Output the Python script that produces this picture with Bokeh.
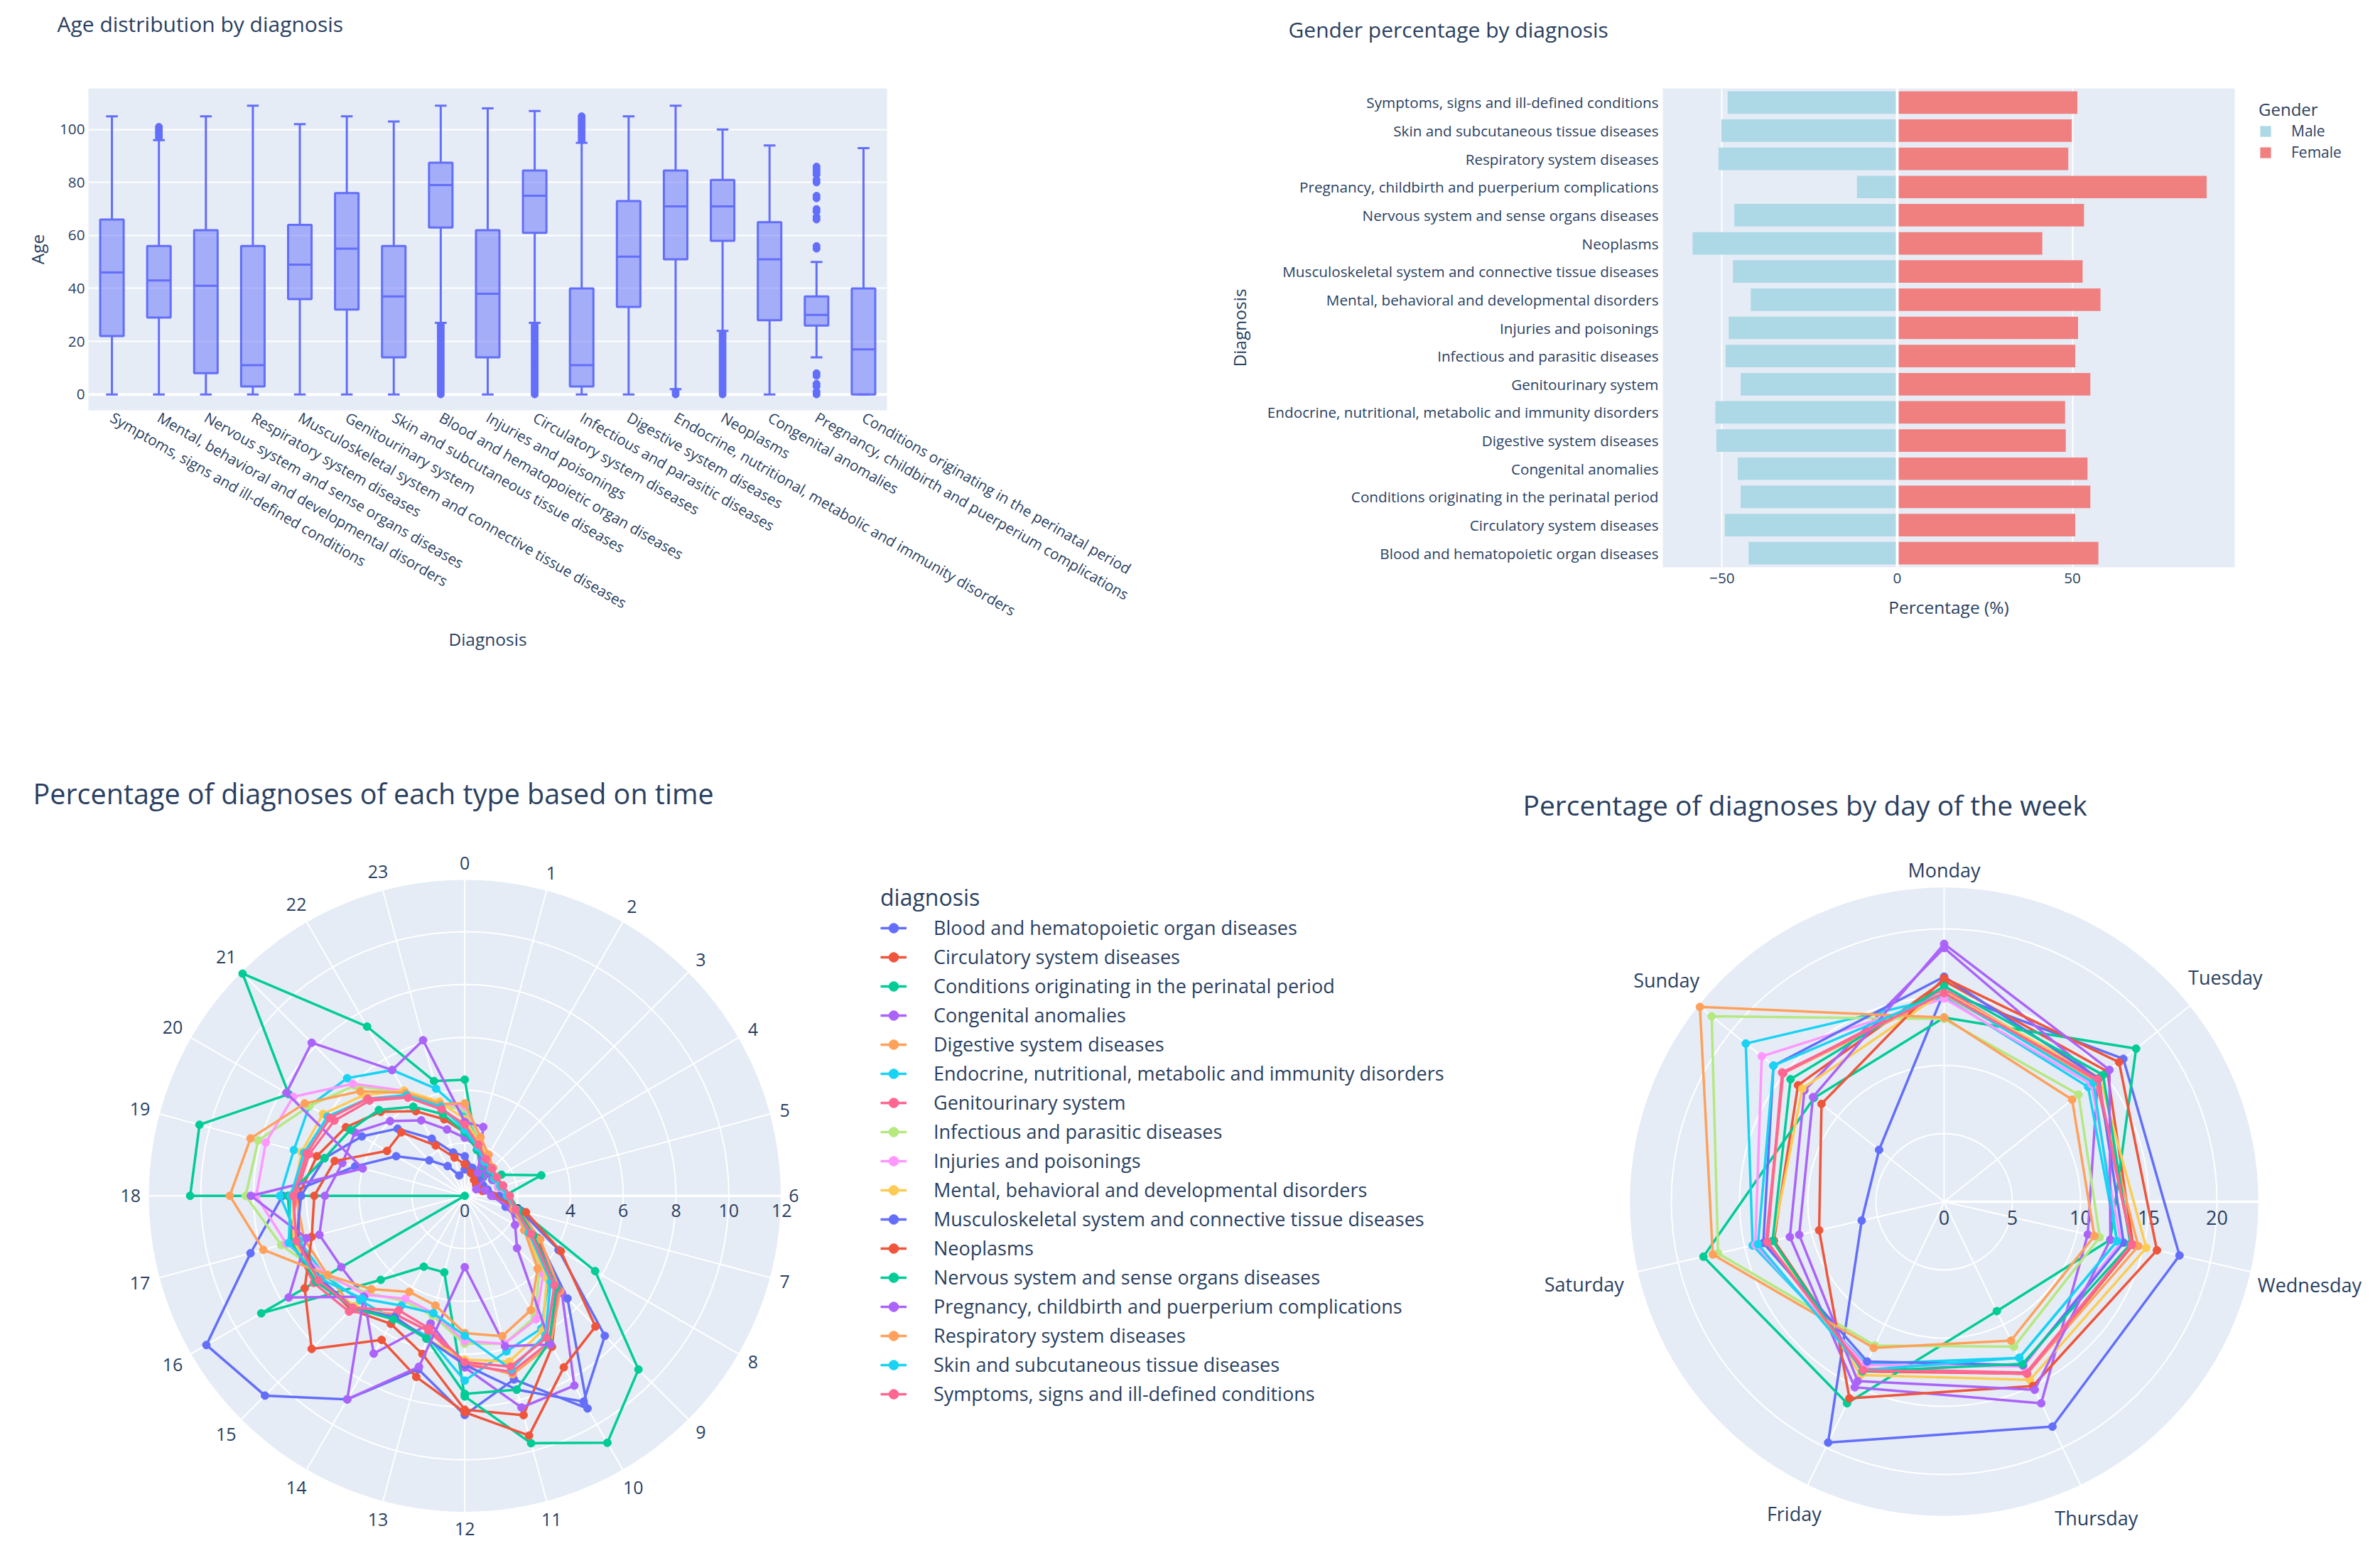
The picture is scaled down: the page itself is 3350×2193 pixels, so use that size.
import numpy as np
from bokeh.plotting import figure
from bokeh.models import (ColumnDataSource, FactorRange, Range1d, Legend, LegendItem,
                          Label, Span, FixedTicker, CustomJSTickFormatter)
from bokeh.transform import dodge
from bokeh.layouts import row, column
from bokeh.embed import file_html
from bokeh.resources import INLINE
from bokeh.core.properties import value

FONT = "Open Sans"
TXT = "#2a3f5f"
BG = "#E5ECF6"
BOX = "#636efa"

# ---------------- Box plot data (age by diagnosis) ----------------
box_cats = [
    "Symptoms, signs and ill-defined conditions",
    "Mental, behavioral and developmental disorders",
    "Nervous system and sense organs diseases",
    "Respiratory system diseases",
    "Musculoskeletal system and connective tissue diseases",
    "Genitourinary system",
    "Skin and subcutaneous tissue diseases",
    "Blood and hematopoietic organ diseases",
    "Injuries and poisonings",
    "Circulatory system diseases",
    "Infectious and parasitic diseases",
    "Digestive system diseases",
    "Endocrine, nutritional, metabolic and immunity disorders",
    "Neoplasms",
    "Congenital anomalies",
    "Pregnancy, childbirth and puerperium complications",
    "Conditions originating in the perinatal period",
]
box_lower = [0, 0, 0, 0, 0, 0, 0, 27, 0, 27, 0, 0, 2, 24, 0, 14, 0]
box_q1 = [22, 29, 8, 3, 36, 32, 14, 63, 14, 61, 3, 33, 51, 58, 28, 26, 0]
box_median = [46, 43, 41, 11, 49, 55, 37, 79, 38, 75, 11, 52, 71, 71, 51, 30, 17]
box_q3 = [66, 56, 62, 56, 64, 76, 56, 87.5, 62, 84.5, 40, 73, 84.5, 81, 65, 37, 40]
box_upper = [105, 96, 105, 109, 102, 105, 103, 109, 108, 107, 95, 105, 109, 100, 94, 50, 93]

out_mental = [97, 98, 99, 100, 101]
out_blood = [0, 1, 2, 3, 4, 5, 6, 7, 8, 9, 10, 11, 12, 13, 14, 15, 16, 17, 18, 19, 20, 21, 22, 23, 24, 25, 26]
out_circulatory = [0, 1, 2, 3, 4, 5, 6, 7, 8, 9, 10, 11, 12, 13, 14, 15, 16, 17, 18, 19, 20, 21, 22, 23, 24, 25, 26]
out_infectious = [96, 97, 98, 99, 100, 101, 102, 103, 104, 105]
out_endocrine = [0, 1]
out_neoplasms = [0, 1, 2, 3, 4, 5, 6, 7, 8, 9, 10, 11, 12, 13, 14, 15, 16, 17, 18, 19, 20, 21, 22, 23]
out_pregnancy = [0, 1, 3, 4, 7, 8, 55, 56, 66, 67, 69, 70, 74, 75, 80, 81, 83, 84, 85, 86]

# ---------------- Bar chart data (gender %) ----------------
bar_cats = [
    "Blood and hematopoietic organ diseases",
    "Circulatory system diseases",
    "Conditions originating in the perinatal period",
    "Congenital anomalies",
    "Digestive system diseases",
    "Endocrine, nutritional, metabolic and immunity disorders",
    "Genitourinary system",
    "Infectious and parasitic diseases",
    "Injuries and poisonings",
    "Mental, behavioral and developmental disorders",
    "Musculoskeletal system and connective tissue diseases",
    "Neoplasms",
    "Nervous system and sense organs diseases",
    "Pregnancy, childbirth and puerperium complications",
    "Respiratory system diseases",
    "Skin and subcutaneous tissue diseases",
    "Symptoms, signs and ill-defined conditions",
]
male_pct = [-42.4, -49.2, -44.7, -45.5, -51.6, -51.9, -44.7, -49.0, -48.1, -41.8,
            -46.9, -58.4, -46.5, -11.5, -51.0, -50.2, -48.4]
female_pct = [57.4, 50.8, 55.1, 54.3, 48.1, 47.9, 55.1, 50.8, 51.6, 58.0,
              52.9, 41.4, 53.3, 88.3, 48.8, 49.8, 51.4]

# ---------------- Hourly polar data (% per hour) ----------------
hour_labels = ["0", "1", "2", "3", "4", "5", "6", "7", "8", "9", "10", "11",
               "12", "13", "14", "15", "16", "17", "18", "19", "20", "21", "22", "23"]
hour_rticks = [0, 2, 4, 6, 8, 10, 12]
t_blood = [1.0, 0.9, 0.8, 0.8, 0.7, 0.8, 1.1, 1.6, 3.2, 5.5, 9.3, 7.2, 8.3, 6.8, 8.9, 10.7, 11.3, 8.4, 6.9, 4.3, 3.0, 1.9, 1.3, 0.8]
t_circulatory = [2.4, 1.8, 1.5, 1.4, 1.3, 1.4, 1.6, 2.2, 3.2, 5.0, 6.6, 8.6, 8.1, 6.2, 5.6, 6.1, 6.3, 6.5, 6.3, 5.8, 5.2, 4.5, 3.7, 3.0]
t_perinatal = [4.4, 1.8, 1.2, 1.0, 1.6, 3.0, 1.5, 2.2, 5.7, 9.3, 10.8, 9.7, 7.6, 3.0, 3.1, 4.5, 8.9, 0.0, 10.4, 10.4, 7.7, 11.9, 7.4, 4.5]
t_congenital = [2.2, 1.9, 1.4, 1.2, 1.2, 1.3, 1.5, 2.0, 3.0, 5.2, 8.3, 8.3, 6.5, 5.0, 6.9, 5.4, 5.4, 5.7, 5.3, 4.8, 4.8, 4.0, 3.3, 2.6]
t_digestive = [2.7, 2.0, 1.6, 1.4, 1.4, 1.5, 1.7, 2.1, 3.3, 5.1, 6.5, 7.0, 6.3, 5.3, 5.2, 6.0, 6.0, 6.3, 6.4, 6.2, 5.9, 5.2, 4.3, 3.4]
t_endocrine = [3.1, 2.1, 1.7, 1.5, 1.4, 1.5, 1.7, 2.1, 2.9, 4.5, 5.8, 6.1, 7.0, 5.5, 5.4, 5.6, 6.1, 6.5, 7.0, 6.7, 6.8, 6.3, 5.5, 4.2]
t_genitourinary = [2.6, 1.9, 1.55, 1.4, 1.4, 1.45, 1.65, 2.0, 3.0, 5.0, 6.4, 6.9, 6.4, 5.3, 5.2, 6.2, 6.6, 6.8, 6.4, 6.1, 5.7, 5.1, 4.3, 3.4]
t_infectious = [3.3, 2.2, 1.7, 1.4, 1.3, 1.3, 1.5, 1.9, 2.7, 4.0, 5.3, 5.8, 5.6, 4.7, 4.6, 5.2, 6.1, 7.2, 8.3, 8.1, 6.8, 5.9, 4.5, 3.5]
t_injuries = [3.4, 2.3, 1.8, 1.5, 1.3, 1.3, 1.5, 2.0, 2.8, 4.2, 5.4, 5.8, 5.5, 4.6, 4.5, 5.3, 6.0, 7.0, 7.9, 7.8, 7.5, 6.0, 4.6, 3.6]
t_mental = [2.9, 2.1, 1.7, 1.5, 1.4, 1.4, 1.6, 1.9, 2.6, 4.4, 5.9, 6.5, 6.2, 5.6, 5.3, 5.9, 6.4, 6.7, 6.5, 6.4, 6.2, 5.4, 4.6, 3.7]
t_musculo = [1.5, 1.1, 0.9, 0.8, 0.8, 0.9, 1.3, 2.2, 4.1, 7.5, 9.0, 7.6, 6.4, 5.6, 5.3, 6.0, 6.3, 6.6, 6.2, 5.5, 4.5, 3.6, 2.5, 1.7]
t_neoplasms = [1.2, 0.9, 0.7, 0.6, 0.6, 0.7, 1.1, 2.4, 4.2, 7.0, 7.5, 9.4, 8.2, 7.1, 6.3, 8.2, 7.0, 6.0, 5.7, 5.1, 3.4, 3.4, 2.2, 1.5]
t_nervous = [2.4, 1.8, 1.5, 1.3, 1.3, 1.4, 1.7, 2.1, 3.0, 4.9, 6.4, 7.6, 7.5, 5.6, 5.4, 6.0, 6.5, 6.8, 6.7, 5.5, 5.0, 4.6, 3.9, 3.2]
t_pregnancy = [2.8, 2.7, 1.0, 1.5, 0.5, 0.8, 1.0, 1.8, 2.2, 2.8, 6.5, 5.9, 2.7, 6.7, 8.9, 5.4, 7.7, 6.2, 8.1, 4.0, 7.8, 8.2, 5.5, 6.1]
t_respiratory = [3.5, 2.3, 1.8, 1.5, 1.4, 1.4, 1.6, 1.9, 2.6, 3.9, 5.0, 5.5, 5.2, 4.3, 4.2, 5.0, 6.0, 7.9, 8.9, 8.4, 7.0, 5.6, 4.5, 3.6]
t_skin = [2.5, 1.9, 1.5, 1.4, 1.3, 1.4, 1.6, 2.0, 2.8, 4.6, 6.1, 6.8, 5.3, 4.6, 4.8, 5.5, 6.3, 6.9, 6.6, 6.3, 6.0, 5.2, 4.4, 3.5]
t_symptoms = [2.7, 2.0, 1.6, 1.45, 1.4, 1.5, 1.7, 2.0, 2.9, 4.8, 6.2, 6.7, 6.3, 5.2, 5.0, 6.0, 6.4, 6.6, 6.5, 6.2, 5.9, 5.2, 4.3, 3.4]

# ---------------- Weekday polar data (% per day) ----------------
day_labels = ["Monday", "Tuesday", "Wednesday", "Thursday", "Friday", "Saturday", "Sunday"]
day_rticks = [0, 5, 10, 15, 20]
d_blood = [15.4, 16.8, 17.7, 18.3, 19.6, 6.2, 6.1]
d_circulatory = [16.2, 15.3, 14.2, 14.0, 13.8, 12.8, 13.7]
d_perinatal = [13.5, 18.0, 12.5, 8.9, 16.4, 18.1, 12.2]
d_congenital = [18.6, 14.4, 10.8, 16.4, 15.1, 11.6, 13.1]
d_digestive = [15.2, 14.2, 14.6, 14.0, 13.6, 13.3, 15.1]
d_endocrine = [15.0, 13.5, 13.0, 12.7, 13.2, 14.4, 18.6]
d_genitourinary = [15.6, 14.3, 14.1, 13.9, 13.6, 13.4, 15.1]
d_infectious = [13.4, 12.6, 11.7, 11.8, 11.7, 17.0, 21.8]
d_injuries = [14.9, 13.8, 13.3, 13.4, 13.3, 14.2, 17.1]
d_mental = [15.4, 14.6, 15.2, 14.5, 14.1, 12.9, 13.3]
d_musculo = [16.5, 14.5, 13.5, 13.3, 13.0, 13.6, 16.0]
d_neoplasms = [16.4, 16.4, 16.0, 15.0, 16.0, 9.4, 11.5]
d_nervous = [15.8, 14.9, 14.0, 13.2, 13.8, 12.9, 14.4]
d_pregnancy = [18.9, 15.5, 12.5, 15.3, 14.6, 10.9, 12.3]
d_respiratory = [13.5, 12.0, 11.3, 11.3, 11.9, 17.4, 22.9]
d_skin = [15.3, 14.0, 13.0, 12.7, 13.7, 14.0, 16.0]
d_symptoms = [15.3, 14.4, 14.1, 14.0, 13.7, 13.3, 15.2]

diag_names = bar_cats
diag_colors = ["#636efa", "#EF553B", "#00cc96", "#ab63fa", "#FFA15A", "#19d3f3", "#FF6692",
               "#B6E880", "#FF97FF", "#FECB52", "#636efa", "#EF553B", "#00cc96", "#ab63fa",
               "#FFA15A", "#19d3f3", "#FF6692"]
hour_series = [t_blood, t_circulatory, t_perinatal, t_congenital, t_digestive, t_endocrine,
               t_genitourinary, t_infectious, t_injuries, t_mental, t_musculo, t_neoplasms,
               t_nervous, t_pregnancy, t_respiratory, t_skin, t_symptoms]
day_series = [d_blood, d_circulatory, d_perinatal, d_congenital, d_digestive, d_endocrine,
              d_genitourinary, d_infectious, d_injuries, d_mental, d_musculo, d_neoplasms,
              d_nervous, d_pregnancy, d_respiratory, d_skin, d_symptoms]

TICK_FS = "20.7px"
AXT_FS = "24.5px"


def style_axes(p):
    p.axis.axis_line_color = None
    p.axis.major_tick_line_color = None
    p.axis.minor_tick_line_color = None
    p.axis.major_tick_out = 0
    p.axis.major_tick_in = 0
    p.axis.minor_tick_out = 0
    p.axis.major_label_text_font = FONT
    p.axis.major_label_text_font_size = TICK_FS
    p.axis.major_label_text_color = TXT
    p.axis.axis_label_text_font = FONT
    p.axis.axis_label_text_font_size = AXT_FS
    p.axis.axis_label_text_font_style = "normal"
    p.axis.axis_label_text_color = TXT


def set_title(p, text, offset, line_height):
    # two trailing blank lines lift the visible title line away from the frame
    t = p.title
    t.text = text + "\n \n "
    t.align = "left"
    t.offset = offset
    t.text_font = FONT
    t.text_font_size = "30px"
    t.text_font_style = "normal"
    t.text_color = TXT
    t.text_line_height = line_height
    try:
        t.standoff = 0
    except AttributeError:
        pass


# ================= Figure A: box plot =================
A_FW, A_FH = 1124, 453
pA = figure(x_range=FactorRange(factors=box_cats), y_range=Range1d(-6, 115.5),
            frame_width=A_FW, frame_height=A_FH, min_border_left=124, min_border_right=452,
            min_border_top=110, min_border_bottom=384, output_backend="svg",
            toolbar_location=None)
pA.background_fill_color = BG
pA.outline_line_color = None
set_title(pA, "Age distribution by diagnosis", -44, 0.86)

src = ColumnDataSource(dict(cat=box_cats, lower=box_lower, q1=box_q1, med=box_median,
                            q3=box_q3, upper=box_upper))
pA.ygrid.grid_line_color = "white"
pA.ygrid.grid_line_width = 2
pA.xgrid.grid_line_color = None
pA.add_layout(Span(location=0, dimension="width", line_color="white", line_width=4, level="underlay"))

pA.segment(x0="cat", y0="q3", x1="cat", y1="upper", source=src, line_color=BOX, line_width=3)
pA.segment(x0="cat", y0="lower", x1="cat", y1="q1", source=src, line_color=BOX, line_width=3)
pA.segment(x0=dodge("cat", -0.125, range=pA.x_range), x1=dodge("cat", 0.125, range=pA.x_range),
           y0="upper", y1="upper", source=src, line_color=BOX, line_width=3)
pA.segment(x0=dodge("cat", -0.125, range=pA.x_range), x1=dodge("cat", 0.125, range=pA.x_range),
           y0="lower", y1="lower", source=src, line_color=BOX, line_width=3)
pA.vbar(x="cat", width=0.5, bottom="q1", top="q3", source=src, fill_color=BOX,
        fill_alpha=0.5, line_color=BOX, line_width=3)
pA.segment(x0=dodge("cat", -0.25, range=pA.x_range), x1=dodge("cat", 0.25, range=pA.x_range),
           y0="med", y1="med", source=src, line_color=BOX, line_width=3)

out_groups = [
    ("Mental, behavioral and developmental disorders", out_mental),
    ("Blood and hematopoietic organ diseases", out_blood),
    ("Circulatory system diseases", out_circulatory),
    ("Infectious and parasitic diseases", out_infectious),
    ("Endocrine, nutritional, metabolic and immunity disorders", out_endocrine),
    ("Neoplasms", out_neoplasms),
    ("Pregnancy, childbirth and puerperium complications", out_pregnancy),
]
ox, oy = [], []
for c, vals in out_groups:
    ox += [c] * len(vals)
    oy += vals
pA.scatter(x=ox, y=oy, size=10, fill_color=BOX, line_color=BOX)

style_axes(pA)
pA.yaxis.ticker = FixedTicker(ticks=[0, 20, 40, 60, 80, 100])
pA.yaxis.axis_label = "Age"
pA.xaxis.axis_label = "Diagnosis"
pA.xaxis.major_label_orientation = -np.pi / 6
pA.yaxis.major_label_standoff = 5
pA.yaxis.axis_label_standoff = 12
pA.xaxis.major_label_standoff = 8
pA.xaxis.axis_label_standoff = -5

# ================= Figure B: gender bars =================
B_FW, B_FH = 805, 674
pB = figure(y_range=FactorRange(factors=bar_cats), x_range=Range1d(-66.9, 96.3),
            frame_width=B_FW, frame_height=B_FH, min_border_left=640, min_border_right=189,
            min_border_top=124, min_border_bottom=149, output_backend="svg",
            toolbar_location=None)
pB.background_fill_color = BG
pB.outline_line_color = None
set_title(pB, "Gender percentage by diagnosis", -527, 0.76)
pB.xgrid.grid_line_color = "white"
pB.xgrid.grid_line_width = 2
pB.ygrid.grid_line_color = None

rm = pB.hbar(y=bar_cats, left=0, right=male_pct, height=0.8, fill_color="#ADD8E6", line_color=None)
rf = pB.hbar(y=bar_cats, left=0, right=female_pct, height=0.8, fill_color="#F08080", line_color=None)
pB.add_layout(Span(location=0, dimension="height", line_color="white", line_width=4))

style_axes(pB)
pB.xaxis.ticker = FixedTicker(ticks=[-50, 0, 50])
pB.xaxis.formatter = CustomJSTickFormatter(code="return tick < 0 ? '\u2212' + Math.abs(tick) : String(tick);")
pB.xaxis.axis_label = "Percentage (%)"
pB.yaxis.axis_label = "Diagnosis"
pB.yaxis.major_label_standoff = 6
pB.yaxis.axis_label_standoff = 20
pB.xaxis.major_label_standoff = 8
pB.xaxis.axis_label_standoff = 14

legB = Legend(items=[LegendItem(label="Male", renderers=[rm]),
                     LegendItem(label="Female", renderers=[rf])],
              title="Gender", location=(34, 570))
legB.title_text_font = FONT
legB.title_text_font_size = "24px"
legB.title_text_font_style = "normal"
legB.title_text_color = TXT
legB.title_standoff = 0
legB.label_text_font = FONT
legB.label_text_font_size = "21px"
legB.label_text_color = TXT
legB.glyph_width = 19
legB.glyph_height = 19
legB.label_height = 19
legB.spacing = 2
legB.padding = 0
legB.margin = 0
legB.border_line_color = None
legB.background_fill_alpha = 0
legB.label_standoff = 27
pB.add_layout(legB, "right")


# ================= polar helper =================
def make_polar(width, height, cx, cy, scale, R, ang_labels, rticks, series, colors,
               title, title_px, title_py, ang_fs, char_w, title_fs):
    p = figure(width=width, height=height,
               x_range=Range1d(-cx / scale, (width - cx) / scale),
               y_range=Range1d(-(height - cy) / scale, cy / scale),
               x_axis_location=None, y_axis_location=None, min_border=0,
               output_backend="svg", toolbar_location=None)
    p.outline_line_color = None
    p.grid.visible = False
    n = len(ang_labels)
    theta = 2 * np.pi * np.arange(n) / n
    s, c = np.sin(theta), np.cos(theta)
    p.circle(x=[0], y=[0], radius=R, fill_color=BG, line_color=None)
    rings = [t for t in rticks if 0 < t < R]
    p.circle(x=[0] * len(rings), y=[0] * len(rings), radius=rings, fill_color=None,
             line_color="white", line_width=2)
    p.circle(x=[0], y=[0], radius=R, fill_color=None, line_color="white", line_width=2.5)
    p.segment(x0=np.zeros(n), y0=np.zeros(n), x1=R * s, y1=R * c,
              line_color="white", line_width=2)
    p.segment(x0=[0], y0=[0], x1=[R], y1=[0], line_color="white", line_width=3.5)
    p.text(x=rticks, y=[-12 / scale] * len(rticks), text=[str(t) for t in rticks],
           text_align="center", text_baseline="top", text_font=value(FONT),
           text_font_size=ang_fs, text_color=TXT)
    fs = float(ang_fs.replace("px", ""))
    w = np.array([len(t) * char_w * fs for t in ang_labels])
    d = (R * scale + 10 + np.abs(s) * w / 2 + np.abs(c) * fs / 2) / scale
    p.text(x=d * s, y=d * c, text=ang_labels, text_align="center", text_baseline="middle",
           text_font=value(FONT), text_font_size=ang_fs, text_color=TXT)
    rends = []
    for vals, col in zip(series, colors):
        v = np.array(vals, dtype=float)
        xs, ys = v * s, v * c
        lr = p.line(np.append(xs, xs[0]), np.append(ys, ys[0]), line_color=col, line_width=3.5)
        sr = p.scatter(xs, ys, size=11, fill_color=col, line_color=col)
        rends.append([lr, sr])
    p.add_layout(Label(x=(title_px - cx) / scale, y=(cy - title_py) / scale, text=title,
                       text_font=FONT, text_font_size=title_fs, text_color=TXT,
                       text_align="left", text_baseline="middle"))
    return p, rends


# ================= Figure C: hourly polar =================
C_W = 2090
pC, rendsC = make_polar(C_W, 1230, 653.7, 731.7, 446 / 12.0, 12, hour_labels, hour_rticks,
                        hour_series, diag_colors,
                        "Percentage of diagnoses of each type based on time", 46, 165,
                        "25px", 0.58, "39.5px")
legC = Legend(items=[LegendItem(label=nm, renderers=r) for nm, r in zip(diag_names, rendsC)],
              location=(1239, 201), title="diagnosis")
legC.title_text_font = FONT
legC.title_text_font_size = "32px"
legC.title_text_font_style = "normal"
legC.title_text_color = TXT
legC.title_standoff = 3
legC.label_text_font = FONT
legC.label_text_font_size = "27px"
legC.label_text_color = TXT
legC.glyph_width = 37
legC.glyph_height = 34
legC.label_height = 34
legC.spacing = 4
legC.padding = 0
legC.margin = 0
legC.label_standoff = 38
legC.border_line_color = None
legC.background_fill_alpha = 0
pC.add_layout(legC)

# ================= Figure D: weekday polar =================
D_W = 3334 - C_W
D_X0 = 8 + C_W
pD, _ = make_polar(D_W, 1230, 2744 - D_X0, 740, 19.2, 23.1, day_labels, day_rticks,
                   day_series, diag_colors,
                   "Percentage of diagnoses by day of the week", 2151 - D_X0, 181,
                   "27px", 0.6, "39px")

layout = column(row(pA, pB), row(pC, pD))
open("out.html", "w").write(file_html(layout, INLINE))
